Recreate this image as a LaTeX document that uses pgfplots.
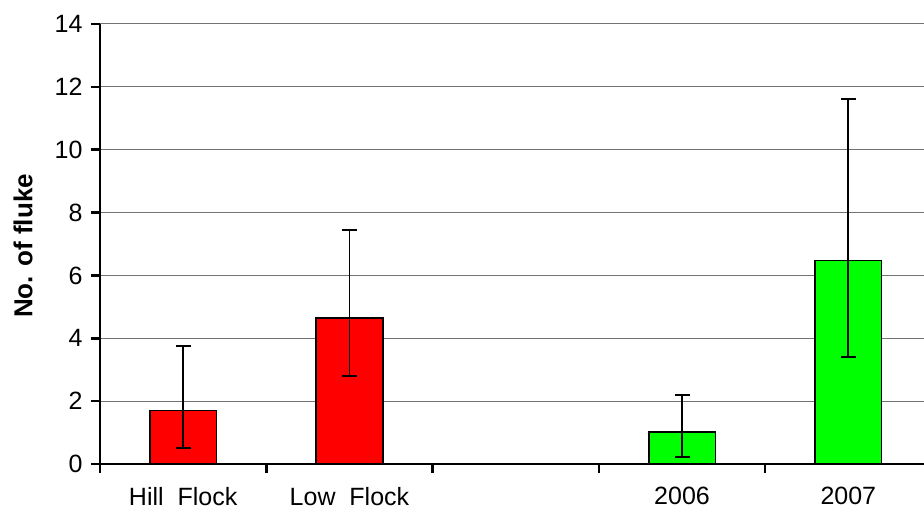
\documentclass[border=0pt]{standalone}
\usepackage{pgfplots}
\pgfplotsset{compat=1.18}
\usepackage{fontspec}
\setmainfont{Liberation Sans}
\definecolor{gbar}{RGB}{0,255,0}
\definecolor{rbar}{RGB}{255,0,0}
\begin{document}
\begin{tikzpicture}
\begin{axis}[
  scale only axis, width=824pt, height=440pt,
  xmin=-0.5, xmax=4.455, ymin=0, ymax=14,
  axis x line=bottom, axis y line=left,
  axis line style={-, line width=2.8pt, black},
  ytick={0,2,...,14},
  ymajorgrids, grid style={draw=gray!90!black, line width=1pt},
  xtick={-0.5,0.5,1.5,2.5,3.5}, xticklabels={},
  tick align=outside, major tick length=9pt,
  tick style={line width=2.5pt, black},
  /pgf/number format/assume math mode=true,
  tick label style={font=\fontsize{25}{29}\selectfont},
  yticklabel style={xshift=-5pt},
  extra x ticks={0,1,3,4},
  extra x tick labels={Hill\ \ Flock, Low\ \ Flock, 2006, 2007},
  extra x tick style={major tick length=0pt, grid=none, tick label style={yshift=-20pt}},
  ylabel={No. of fluke},
  every axis y label/.style={at={(axis description cs:-0.0934,0.4955)}, rotate=90, anchor=center, font=\fontsize{26}{30}\selectfont\bfseries},
  clip=false,
]
\addplot[ybar, bar shift=0pt, bar width=0.4, fill=rbar, draw=black, line width=1.6pt,
  error bars/.cd, y dir=both, y explicit,
  error bar style={line width=1.8pt, black},
  error mark options={rotate=90, mark size=7.5pt, line width=1.8pt, black}]
  coordinates {(0,1.70) += (0,2.05) -= (0,1.20) (1,4.64) += (0,2.81) -= (0,1.85)};
\addplot[ybar, bar shift=0pt, bar width=0.4, fill=gbar, draw=black, line width=1.6pt,
  error bars/.cd, y dir=both, y explicit,
  error bar style={line width=1.8pt, black},
  error mark options={rotate=90, mark size=7.5pt, line width=1.8pt, black}]
  coordinates {(3,1.01) += (0,1.19) -= (0,0.78) (4,6.47) += (0,5.14) -= (0,3.06)};
\end{axis}
\pgfresetboundingbox
\path ([xshift=-100pt,yshift=-47pt]current axis.south west) rectangle ([yshift=24pt]current axis.north east);
\end{tikzpicture}
\end{document}
